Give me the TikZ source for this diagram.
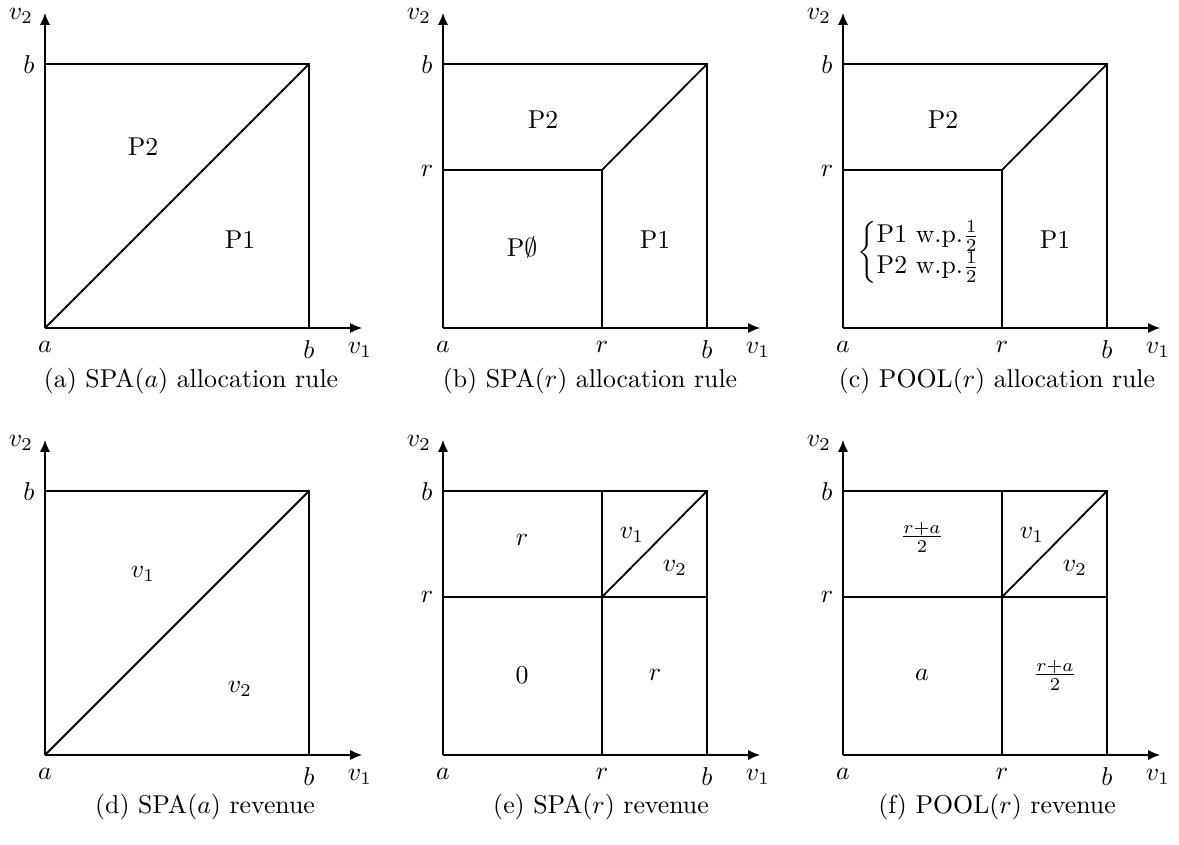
\documentclass[tikz,border=0pt]{standalone}
\usepackage{amsmath}
\usepackage{amssymb}
\usetikzlibrary{arrows.meta}

\begin{document}
\begin{tikzpicture}[x=0.01363cm, y=0.01363cm, >={Latex[length=4.6pt, width=3.9pt]}]
    % Stili
    \tikzstyle{axis} = [->, line width=0.4pt]
    \tikzstyle{edge} = [line width=0.7pt]
    \tikzstyle{caption} = [anchor=center]

    \useasboundingbox (0,0) rectangle (1179,-845);

    % Assi
    \foreach \ox/\oy in {45/-328, 443/-328, 843/-328, 45/-755, 443/-755, 843/-755} {
        \begin{scope}[shift={(\ox,\oy)}]
            \draw [axis] (0,0) -- (317,0);
            \draw [axis] (0,0) -- (0,315);
            \node at (315,-22) {$v_1$};
            \node at (-24,312) {$v_2$};
            \node at (0,-19) {$a$};
            \node at (264,-22) {$b$};
            \node at (-16,263) {$b$};
        \end{scope}
    }

    % (a)
    \begin{scope}[shift={(45,-328)}]
        \draw [edge] (0,264) -- (264,264) -- (264,0);
        \draw [edge] (0,0) -- (264,264);
        \node (p2a) at (98,181) {P2};
        \node (p1a) at (195,88) {P1};
        \node [caption] (cap-a) at (146,-53) {(a) SPA($a$) allocation rule};
    \end{scope}

    % (b)
    \begin{scope}[shift={(443,-328)}]
        \draw [edge] (0,264) -- (264,264) -- (264,0);
        \draw [edge] (0,158) -- (159,158) -- (264,264);
        \draw [edge] (159,158) -- (159,0);
        \node at (-16,157) {$r$};
        \node at (159,-19) {$r$};
        \node (p2b) at (100,208) {P2};
        \node (p0b) at (79,80) {P$\emptyset$};
        \node (p1b) at (212,88) {P1};
        \node [caption] (cap-b) at (147,-53) {(b) SPA($r$) allocation rule};
    \end{scope}

    % (c)
    \begin{scope}[shift={(843,-328)}]
        \draw [edge] (0,264) -- (264,264) -- (264,0);
        \draw [edge] (0,158) -- (159,158) -- (264,264);
        \draw [edge] (159,158) -- (159,0);
        \node at (-16,157) {$r$};
        \node at (159,-19) {$r$};
        \node (p2c) at (100,208) {P2};
        \node (mixc) at (77,76) {$\left\{\begin{array}{@{}l@{}}\text{P1 w.p.}\frac{1}{2}\\ \text{P2 w.p.}\frac{1}{2}\end{array}\right.$};
        \node (p1c) at (212,88) {P1};
        \node [caption] (cap-c) at (154,-53) {(c) POOL($r$) allocation rule};
    \end{scope}

    % (d)
    \begin{scope}[shift={(45,-755)}]
        \draw [edge] (0,264) -- (264,264) -- (264,0);
        \draw [edge] (0,0) -- (264,264);
        \node (v1d) at (98,181) {$v_1$};
        \node (v2d) at (195,66) {$v_2$};
        \node [caption] (cap-d) at (160,-52) {(d) SPA($a$) revenue};
    \end{scope}

    % (e)
    \begin{scope}[shift={(443,-755)}]
        \draw [edge] (0,264) -- (264,264) -- (264,0);
        \draw [edge] (0,158) -- (264,158);
        \draw [edge] (159,0) -- (159,264);
        \draw [edge] (159,158) -- (264,264);
        \node at (-16,158) {$r$};
        \node at (159,-19) {$r$};
        \node (re) at (79,215) {$r$};
        \node (v1e) at (189,220) {$v_1$};
        \node (v2e) at (232,187) {$v_2$};
        \node (ze) at (79,80) {$0$};
        \node (r2e) at (212,80) {$r$};
        \node [caption] (cap-e) at (158,-52) {(e) SPA($r$) revenue};
    \end{scope}

    % (f)
    \begin{scope}[shift={(843,-755)}]
        \draw [edge] (0,264) -- (264,264) -- (264,0);
        \draw [edge] (0,158) -- (264,158);
        \draw [edge] (159,0) -- (159,264);
        \draw [edge] (159,158) -- (264,264);
        \node at (-16,158) {$r$};
        \node at (159,-19) {$r$};
        \node (fr1f) at (79,218) {$\frac{r+a}{2}$};
        \node (v1f) at (189,220) {$v_1$};
        \node (v2f) at (232,187) {$v_2$};
        \node (af) at (79,80) {$a$};
        \node (fr2f) at (212,80) {$\frac{r+a}{2}$};
        \node [caption] (cap-f) at (154,-52) {(f) POOL($r$) revenue};
    \end{scope}
\end{tikzpicture}
\end{document}
